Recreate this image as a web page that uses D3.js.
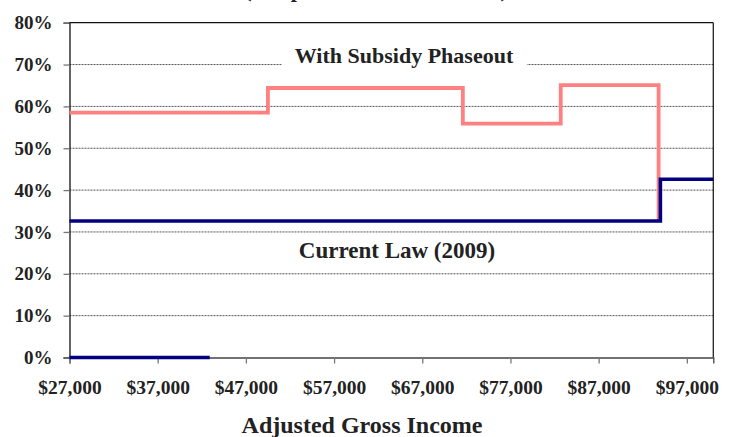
<!DOCTYPE html>
<html>
<head>
<meta charset="utf-8">
<script src="https://cdn.jsdelivr.net/npm/d3@7"></script>
<style>
  body { margin: 0; background: #fff; }
  text { font-family: "Liberation Serif", "Times New Roman", serif; font-weight: bold; fill: #222; }
</style>
</head>
<body>
<svg id="chart" width="729" height="437"></svg>
<script>
// step points: income where the rate changes, and the rate from there on
var phaseoutIncome = [27000, 49500, 71600, 82700, 93800];
var phaseoutRate   = [58.5, 64.4, 55.9, 65.1, 32.6];
var currentIncome  = [27000, 94000, 100000];
var currentRate    = [32.6, 42.6, 42.6];
var zeroIncome     = [27000, 42900];
var zeroRate       = [0, 0];

var yTicks = [0, 10, 20, 30, 40, 50, 60, 70, 80];
var xTicks = [27000, 37000, 47000, 57000, 67000, 77000, 87000, 97000];

var svg = d3.select('#chart');
var plotLeft = 69.5, plotRight = 713.3, plotTop = 22.7, plotBottom = 357.5;

var x = d3.scaleLinear().domain([27000, 100000]).range([plotLeft, plotRight]);
var y = d3.scaleLinear().domain([0, 80]).range([plotBottom, plotTop]);

// partial title, cut off by the top edge
svg.append('text')
  .attr('x', 376).attr('y', -3)
  .attr('text-anchor', 'middle')
  .style('font-size', '22px')
  .text('(Couple with Two Children)');

// dashed gridlines
svg.selectAll('line.grid')
  .data(yTicks.filter(function(d) { return d > 0 && d < 80; }))
  .enter().append('line')
  .attr('class', 'grid')
  .attr('x1', plotLeft).attr('x2', plotRight)
  .attr('y1', function(d) { return y(d); })
  .attr('y2', function(d) { return y(d); })
  .attr('stroke', '#555')
  .attr('stroke-width', 1)
  .attr('stroke-dasharray', '2,1');

// y axis
var yAxis = d3.axisLeft(y).tickValues(yTicks).tickSize(6)
  .tickFormat(function(d) { return d + '%'; });
var gy = svg.append('g').attr('transform', 'translate(' + plotLeft + ',0)').call(yAxis);
gy.select('.domain').attr('stroke', '#111').attr('stroke-width', 1.3);
gy.selectAll('.tick line').attr('stroke', '#777').attr('stroke-width', 1.3);
gy.selectAll('.tick text')
  .attr('x', -17).attr('dy', '0.32em')
  .style('font-size', '19px').style('fill', '#222');

// x axis
var xAxis = d3.axisBottom(x).tickValues(xTicks).tickSize(6)
  .tickFormat(function(d) { return '$' + d3.format(',')(d); });
var gx = svg.append('g').attr('transform', 'translate(0,' + plotBottom + ')').call(xAxis);
gx.select('.domain').attr('stroke', '#444').attr('stroke-width', 1.3);
gx.selectAll('.tick line').attr('stroke', '#777').attr('stroke-width', 1.3);
gx.selectAll('.tick text')
  .attr('y', 36).attr('dy', 0)
  .style('font-size', '19.5px').style('fill', '#222');

// top and right frame
svg.append('line').attr('x1', plotLeft).attr('x2', plotRight).attr('y1', plotTop).attr('y2', plotTop)
  .attr('stroke', '#111').attr('stroke-width', 1.3);
svg.append('line').attr('x1', plotRight).attr('x2', plotRight).attr('y1', plotTop).attr('y2', plotBottom)
  .attr('stroke', '#222').attr('stroke-width', 1.3);

// series label with white box over the grid
var lbl = svg.append('g');
var lblText = lbl.append('text')
  .attr('x', 404).attr('y', 63)
  .attr('text-anchor', 'middle')
  .style('font-size', '22px')
  .text('With Subsidy Phaseout');
var bb = lblText.node().getBBox();
lbl.insert('rect', 'text')
  .attr('x', bb.x - 13).attr('y', bb.y)
  .attr('width', bb.width + 26).attr('height', bb.height)
  .attr('fill', '#fff');

svg.append('text')
  .attr('x', 397).attr('y', 258)
  .attr('text-anchor', 'middle')
  .style('font-size', '23px')
  .text('Current Law (2009)');

function stepLine(xs, ys) {
  var pts = xs.map(function(d, i) { return [d, ys[i]]; });
  return d3.line()
    .x(function(d) { return x(d[0]); })
    .y(function(d) { return y(d[1]); })
    .curve(d3.curveStepAfter)(pts);
}

svg.append('path')
  .attr('d', stepLine(phaseoutIncome, phaseoutRate))
  .attr('fill', 'none').attr('stroke', '#ff8080').attr('stroke-width', 3.8);

svg.append('path')
  .attr('d', stepLine(currentIncome, currentRate))
  .attr('fill', 'none').attr('stroke', '#000080').attr('stroke-width', 3.6);

svg.append('path')
  .attr('d', stepLine(zeroIncome, zeroRate))
  .attr('fill', 'none').attr('stroke', '#000080').attr('stroke-width', 3.6);

// axis title
svg.append('text')
  .attr('x', 362).attr('y', 433)
  .attr('text-anchor', 'middle')
  .style('font-size', '24px')
  .text('Adjusted Gross Income');
</script>
</body>
</html>
